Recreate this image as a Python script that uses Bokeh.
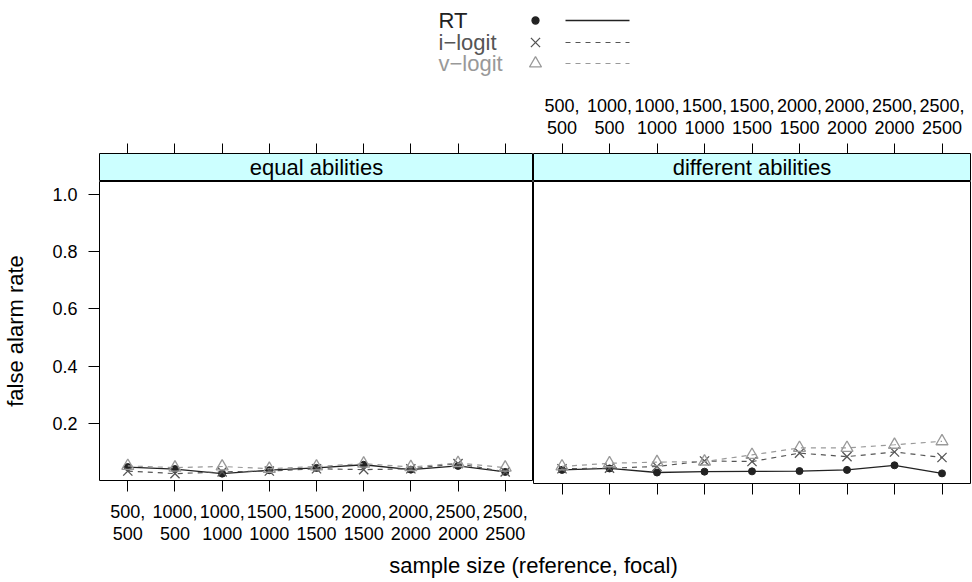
from bokeh.plotting import figure
from bokeh.layouts import column, row
from bokeh.models import Range1d, FixedTicker, LinearAxis
from bokeh.embed import file_html
from bokeh.resources import INLINE
from bokeh.core.properties import value

# ---------------- data ----------------
categories = ["500,\n500", "1000,\n500", "1000,\n1000", "1500,\n1000", "1500,\n1500",
              "2000,\n1500", "2000,\n2000", "2500,\n2000", "2500,\n2500"]
x_pos = [1, 2, 3, 4, 5, 6, 7, 8, 9]
panel_names = ["equal abilities", "different abilities"]
series_names = ["RT", "i\u2212logit", "v\u2212logit"]

rt_equal = [0.047, 0.040, 0.024, 0.036, 0.044, 0.055, 0.038, 0.051, 0.030]
ilogit_equal = [0.033, 0.024, 0.030, 0.033, 0.041, 0.038, 0.041, 0.059, 0.030]
vlogit_equal = [0.051, 0.045, 0.049, 0.041, 0.049, 0.059, 0.047, 0.061, 0.045]

rt_diff = [0.047, 0.052, 0.038, 0.041, 0.042, 0.043, 0.047, 0.063, 0.035]
ilogit_diff = [0.051, 0.053, 0.059, 0.078, 0.076, 0.105, 0.093, 0.109, 0.090]
vlogit_diff = [0.059, 0.070, 0.074, 0.076, 0.099, 0.123, 0.123, 0.134, 0.146]

y_ticks = [0.2, 0.4, 0.6, 0.8, 1.0]
y_tick_labels = ["0.2", "0.4", "0.6", "0.8", "1.0"]
y_label = "false alarm rate"
x_label = "sample size (reference, focal)"

# ---------------- style ----------------
FONT = "Liberation Sans"
COLS = ["#222222", "#555555", "#999999"]
STRIP_COL = "#ccffff"
X_LO, X_HI = 0.4, 9.6
Y_LO, Y_HI = 0.0, 1.045
DASH = "5 5"

LEFT_B = 96
FRAME_W = 437
RIGHT_B = 1
TOTAL_W = LEFT_B + 2 * FRAME_W + RIGHT_B
LEG_H = 86
STRIP_TOP_B = 67
STRIP_FRAME = 28
PANEL_FRAME = 302
PANEL_BOT_B = 63
XLAB_H = 35
MARKER_SIZE = {"circle": 7, "x": 13, "triangle": 12}


def style_axis(ax, ticks, labels, tick_out=11, standoff=8):
    ax.ticker = FixedTicker(ticks=ticks)
    ax.major_label_overrides = {t: l for t, l in zip(ticks, labels)}
    ax.major_tick_out = tick_out
    ax.major_tick_in = 0
    ax.minor_tick_out = 0
    ax.minor_tick_in = 0
    ax.minor_tick_line_color = None
    ax.major_tick_line_color = "black"
    ax.major_tick_line_width = 1
    ax.axis_line_color = None
    ax.major_label_standoff = standoff
    ax.major_label_text_font = FONT
    ax.major_label_text_font_size = "18px"
    ax.major_label_text_color = "black"
    ax.major_label_text_line_height = 1.1


def make_column(idx, rt, il, vl):
    left = idx == 0
    w = (LEFT_B + FRAME_W) if left else (FRAME_W + RIGHT_B)
    mbl = LEFT_B if left else 0
    mbr = 0 if left else RIGHT_B
    xr = Range1d(X_LO, X_HI)

    # strip
    s = figure(width=w, height=STRIP_TOP_B + STRIP_FRAME, x_range=xr, y_range=Range1d(0, 1),
               output_backend="svg", toolbar_location=None,
               x_axis_location=None, y_axis_location=None,
               min_border_left=mbl, min_border_right=mbr,
               min_border_top=STRIP_TOP_B, min_border_bottom=0,
               background_fill_color=STRIP_COL, outline_line_color="black",
               outline_line_width=1)
    s.grid.visible = False
    top_ax = LinearAxis()
    style_axis(top_ax, x_pos, categories if not left else [""] * len(x_pos), tick_out=10, standoff=6)
    s.add_layout(top_ax, "above")
    s.text(x=[(X_LO + X_HI) / 2], y=[0.5], text=[panel_names[idx]], text_align="center",
           text_baseline="middle", text_font=value(FONT), text_font_size="22px",
           text_color="black")

    # panel
    p = figure(width=w, height=PANEL_FRAME + PANEL_BOT_B, x_range=xr, y_range=Range1d(Y_LO, Y_HI),
               output_backend="svg", toolbar_location=None,
               x_axis_location=None, y_axis_location=None,
               min_border_left=mbl, min_border_right=mbr,
               min_border_top=0, min_border_bottom=PANEL_BOT_B,
               outline_line_color="black", outline_line_width=1)
    p.grid.visible = False
    bot_ax = LinearAxis()
    style_axis(bot_ax, x_pos, categories if left else [""] * len(x_pos), tick_out=11, standoff=10)
    p.add_layout(bot_ax, "below")
    if left:
        y_ax = LinearAxis()
        style_axis(y_ax, y_ticks, y_tick_labels, tick_out=11, standoff=11)
        y_ax.axis_label = y_label
        y_ax.axis_label_text_font = FONT
        y_ax.axis_label_text_font_size = "22px"
        y_ax.axis_label_text_font_style = "normal"
        y_ax.axis_label_text_color = "black"
        y_ax.axis_label_standoff = 21
        p.add_layout(y_ax, "left")

    # series: RT, i-logit, v-logit
    p.line(x_pos, rt, line_color=COLS[0], line_width=1.3)
    p.scatter(x_pos, rt, marker="circle", size=MARKER_SIZE["circle"], fill_color=COLS[0], line_color=COLS[0])
    p.line(x_pos, il, line_color=COLS[1], line_width=1.2, line_dash=DASH)
    p.scatter(x_pos, il, marker="x", size=MARKER_SIZE["x"], line_color=COLS[1], line_width=1.3)
    p.line(x_pos, vl, line_color=COLS[2], line_width=1.2, line_dash=DASH)
    p.scatter(x_pos, vl, marker="triangle", size=MARKER_SIZE["triangle"], fill_color=None,
              line_color=COLS[2], line_width=1.3)
    return column(s, p, spacing=0)


# ---------------- legend ----------------
leg = figure(width=TOTAL_W, height=LEG_H, x_range=Range1d(0, TOTAL_W), y_range=Range1d(LEG_H, 0),
             output_backend="svg", toolbar_location=None,
             x_axis_location=None, y_axis_location=None,
             min_border_left=0, min_border_right=0, min_border_top=0, min_border_bottom=0,
             outline_line_color=None)
leg.grid.visible = False
LEG_TEXT_X = 438
LEG_MARK_X = 535
LEG_LINE_X0, LEG_LINE_X1 = 565, 629
leg_rows = [20, 42, 63]
markers = ["circle", "x", "triangle"]
dashes = ["solid", DASH, DASH]
for i in range(3):
    leg.text(x=[LEG_TEXT_X], y=[leg_rows[i]], text=[series_names[i]], text_align="left",
             text_baseline="middle", text_font=value(FONT), text_font_size="22px",
             text_color=COLS[i])
    fill = COLS[i] if markers[i] == "circle" else None
    leg.scatter([LEG_MARK_X], [leg_rows[i]], marker=markers[i], size=MARKER_SIZE[markers[i]],
                fill_color=fill, line_color=COLS[i], line_width=1.3)
    leg.line([LEG_LINE_X0, LEG_LINE_X1], [leg_rows[i], leg_rows[i]], line_color=COLS[i],
             line_width=1.3 if i == 0 else 1.2, line_dash=dashes[i])

# ---------------- x label ----------------
xl = figure(width=TOTAL_W, height=XLAB_H, x_range=Range1d(0, TOTAL_W), y_range=Range1d(XLAB_H, 0),
            output_backend="svg", toolbar_location=None,
            x_axis_location=None, y_axis_location=None,
            min_border_left=0, min_border_right=0, min_border_top=0, min_border_bottom=0,
            outline_line_color=None)
xl.grid.visible = False
xl.text(x=[LEFT_B + FRAME_W], y=[19], text=[x_label], text_align="center",
        text_baseline="middle", text_font=value(FONT), text_font_size="22px",
        text_color="black")

panels = row(make_column(0, rt_equal, ilogit_equal, vlogit_equal),
             make_column(1, rt_diff, ilogit_diff, vlogit_diff), spacing=0)
layout = column(leg, panels, xl, spacing=0)

open("out.html", "w").write(file_html(layout, INLINE))
